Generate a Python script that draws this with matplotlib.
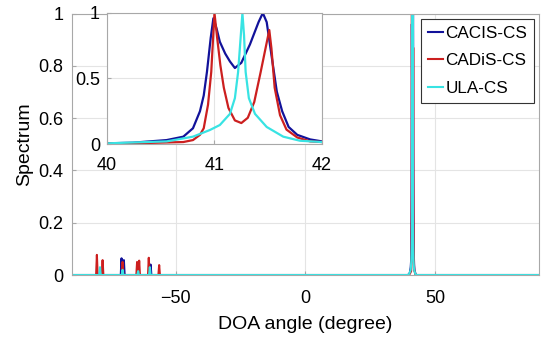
import numpy as np
import matplotlib
matplotlib.use("Agg")
import matplotlib.pyplot as plt

plt.rcParams["font.family"] = ["Liberation Sans", "DejaVu Sans"]

# -----------------------------
# Colours
# -----------------------------
BLUE = "#12129a"
RED = "#cc1f1f"
CYAN = "#38e3e3"
GRID_COLOR = "#e4e4e4"
BOX_COLOR = "#a8a8a8"

LABELS = ["CACIS-CS", "CADiS-CS", "ULA-CS"]

# -----------------------------
# Zoomed spectrum around 41 degree (inset)
# -----------------------------
cacis_deg = [40.0, 40.24, 40.555, 40.71, 40.80, 40.865, 40.90, 40.93, 40.965, 40.99,
             41.02, 41.05, 41.10, 41.144, 41.19, 41.25, 41.33, 41.41, 41.45, 41.486,
             41.53, 41.58, 41.63, 41.69, 41.77, 41.89, 42.0]
cacis_val = [0.005, 0.01, 0.03, 0.056, 0.12, 0.25, 0.37, 0.55, 0.81, 0.96,
             0.88, 0.78, 0.69, 0.63, 0.58, 0.62, 0.76, 0.93, 1.0, 0.93,
             0.68, 0.40, 0.25, 0.13, 0.07, 0.035, 0.02]

cadis_deg = [40.0, 40.24, 40.71, 40.80, 40.865, 40.90, 40.94, 40.97, 41.0, 41.025,
             41.055, 41.087, 41.13, 41.19, 41.25, 41.31, 41.37, 41.43, 41.49, 41.51,
             41.53, 41.56, 41.61, 41.67, 41.77, 41.89, 42.0]
cadis_val = [0.003, 0.005, 0.015, 0.03, 0.07, 0.12, 0.30, 0.55, 1.0, 0.81,
             0.60, 0.43, 0.275, 0.18, 0.16, 0.20, 0.32, 0.55, 0.79, 0.87,
             0.73, 0.43, 0.22, 0.11, 0.05, 0.02, 0.015]

ula_deg = [40.0, 40.555, 40.80, 40.958, 41.05, 41.144, 41.19, 41.22, 41.245, 41.26,
           41.275, 41.29, 41.32, 41.377, 41.486, 41.64, 41.795, 42.0]
ula_val = [0.005, 0.02, 0.056, 0.107, 0.145, 0.23, 0.35, 0.55, 0.83, 1.0,
           0.83, 0.55, 0.35, 0.23, 0.13, 0.056, 0.025, 0.015]

# -----------------------------
# Small spurious peaks on the full range (centre, height)
# -----------------------------
cacis_spur_deg = [-79.2, -70.9, -70.0, -64.5, -59.7]
cacis_spur_val = [0.01, 0.064, 0.057, 0.03, 0.04]
cadis_spur_deg = [-80.4, -78.2, -70.5, -64.9, -64.1, -60.4, -56.4]
cadis_spur_val = [0.077, 0.057, 0.05, 0.05, 0.055, 0.066, 0.038]
ula_spur_deg = [-79.2, -70.5, -64.5, -60.0]
ula_spur_val = [0.03, 0.02, 0.015, 0.03]

SPIKE_HALF = 0.3


def full_trace(spur_deg, spur_val, peak_deg, peak_val):
    xs, ys = [-90.0], [0.0]
    for d, v in zip(spur_deg, spur_val):
        xs += [d - SPIKE_HALF, d, d + SPIKE_HALF]
        ys += [0.0, v, 0.0]
    # back to the floor just outside the zoomed window
    xs += [peak_deg[0] - 0.5] + list(peak_deg) + [peak_deg[-1] + 0.5, 90.0]
    ys += [0.0] + list(peak_val) + [0.0, 0.0]
    return xs, ys


series = [
    (cacis_spur_deg, cacis_spur_val, cacis_deg, cacis_val, BLUE),
    (cadis_spur_deg, cadis_spur_val, cadis_deg, cadis_val, RED),
    (ula_spur_deg, ula_spur_val, ula_deg, ula_val, CYAN),
]


def style_axes(ax):
    for s in ax.spines.values():
        s.set_color(BOX_COLOR)
        s.set_linewidth(0.8)
    ax.tick_params(direction="in", length=3, color=BOX_COLOR, labelcolor="black")
    ax.grid(True, color=GRID_COLOR, linewidth=0.8)
    ax.set_axisbelow(True)


fig = plt.figure(figsize=(5.42, 3.41), dpi=100)

# main axes
ax = fig.add_axes([0.1328, 0.1935, 0.8617, 0.7665])
for (sd, sv, pd_, pv, c), lab in zip(series, LABELS):
    x, y = full_trace(sd, sv, pd_, pv)
    ax.plot(x, y, color=c, linewidth=1.5, label=lab)

ax.set_xlim(-90, 90)
ax.set_ylim(0, 1)
ax.set_xticks([-50, 0, 50])
ax.set_yticks([0, 0.2, 0.4, 0.6, 0.8, 1])
ax.set_yticklabels(["0", "0.2", "0.4", "0.6", "0.8", "1"])
style_axes(ax)
ax.tick_params(labelsize=13)
ax.tick_params(axis="x", pad=11)
ax.tick_params(axis="y", pad=6)
ax.set_xlabel("DOA angle (degree)", fontsize=14, labelpad=6)
ax.set_ylabel("Spectrum", fontsize=14, labelpad=4)

leg = ax.legend(loc="upper right", fontsize=12.3, handlelength=0.9,
                handletextpad=0.1, borderpad=0.4, labelspacing=0.75,
                borderaxespad=0.3, fancybox=False, framealpha=1)
leg.get_frame().set_edgecolor("#333333")
leg.get_frame().set_linewidth(0.8)

# inset
ins = fig.add_axes([0.1974, 0.5777, 0.3966, 0.3842])
ins.plot(cacis_deg, cacis_val, color=BLUE, linewidth=1.6)
ins.plot(cadis_deg, cadis_val, color=RED, linewidth=1.6)
ins.plot(ula_deg, ula_val, color=CYAN, linewidth=1.6)
ins.set_xlim(40, 42)
ins.set_ylim(0, 1)
ins.set_xticks([40, 41, 42])
ins.set_yticks([0, 0.5, 1])
ins.set_yticklabels(["0", "0.5", "1"])
style_axes(ins)
ins.tick_params(labelsize=13)
ins.tick_params(axis="x", pad=9)
ins.tick_params(axis="y", pad=5)

fig.savefig("out.png", dpi=100)
plt.close(fig)
